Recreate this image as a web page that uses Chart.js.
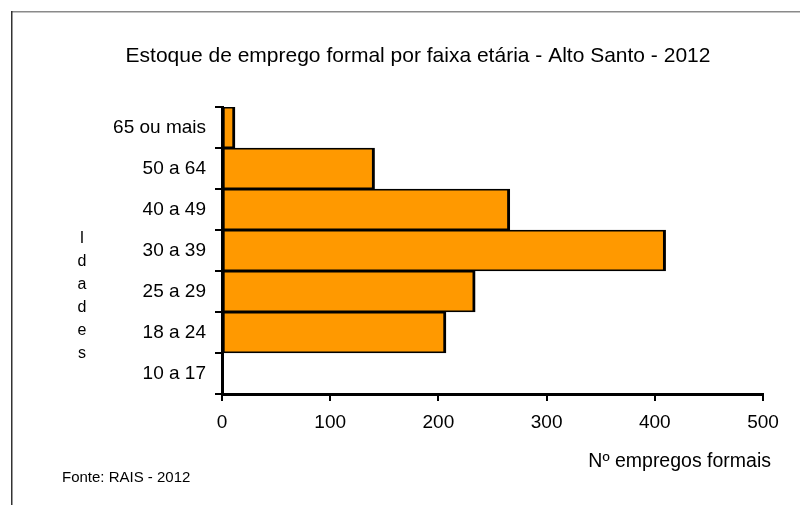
<!DOCTYPE html>
<html lang="pt">
<head>
<meta charset="utf-8">
<title>Estoque de emprego formal por faixa etária - Alto Santo - 2012</title>
<script src="https://cdn.jsdelivr.net/npm/chart.js@4/dist/chart.umd.min.js"></script>
<style>
  html, body { margin: 0; padding: 0; background: #fff; }
  #wrap { width: 800px; height: 505px; }
</style>
</head>
<body>
<div id="wrap"><canvas id="chart" width="800" height="505"></canvas></div>
<script>
// Dados (de baixo para cima)
const faixas = ["10 a 17", "18 a 24", "25 a 29", "30 a 39", "40 a 49", "50 a 64", "65 ou mais"];
const empregos = [0, 207, 234, 410, 266, 141, 12];
const xMin = 0, xMax = 500, xStep = 100;

const titulo = "Estoque de emprego formal por faixa etária - Alto Santo - 2012";
const tituloX = "Nº empregos formais";
const tituloY = "Idades";
const fonte = "Fonte: RAIS - 2012";

const FONT = "'Liberation Sans', Arial, sans-serif";

// Moldura, título e textos soltos
const extras = {
  id: "extras",
  beforeDraw: (chart) => {
    const c = chart.ctx;
    c.save();
    c.fillStyle = "#fff";
    c.fillRect(0, 0, chart.width, chart.height);
    c.fillStyle = "#8a8a8a";
    c.fillRect(11, 11, chart.width - 11, 1.5);
    c.fillStyle = "#333";
    c.fillRect(11, 11, 1.5, chart.height - 11);
    c.restore();
  },
  afterDraw: (chart) => {
    const c = chart.ctx;
    c.save();
    c.fillStyle = "#000";
    c.textBaseline = "alphabetic";

    c.font = `21px ${FONT}`;
    c.textAlign = "center";
    c.fillText(titulo, 418, 62);

    c.font = `19.5px ${FONT}`;
    c.textAlign = "right";
    c.fillText(tituloX, 771, 467);

    c.font = `15px ${FONT}`;
    c.textAlign = "left";
    c.fillText(fonte, 62, 482);

    // "Idades" na vertical, uma letra por linha
    c.font = `16px ${FONT}`;
    c.textAlign = "center";
    [...tituloY].forEach((ch, i) => c.fillText(ch, 82, 243 + i * 23));
    c.restore();
  }
};

new Chart(document.getElementById("chart"), {
  type: "bar",
  data: {
    labels: faixas,
    datasets: [{
      data: empregos,
      backgroundColor: "#FF9900",
      borderColor: "#000",
      borderWidth: { top: 1.75, bottom: 1.75, left: 2, right: 3 },
      borderSkipped: false,
      categoryPercentage: 1,
      barPercentage: 1
    }]
  },
  options: {
    indexAxis: "y",
    responsive: false,
    animation: false,
    layout: { padding: { top: 107, right: 37, bottom: 0, left: 0 } },
    plugins: {
      legend: { display: false },
      tooltip: { enabled: false }
    },
    scales: {
      x: {
        min: xMin,
        max: xMax,
        afterFit: (s) => { s.height = 111; },
        grid: { drawOnChartArea: false, drawTicks: true, tickLength: 7, color: "#000", lineWidth: 2 },
        border: { color: "#000", width: 3 },
        ticks: { stepSize: xStep, color: "#000", padding: 10, font: { family: FONT, size: 19 } }
      },
      y: {
        reverse: true,
        afterFit: (s) => { s.width = 222; },
        grid: { offset: true, drawOnChartArea: false, drawTicks: true, tickLength: 7, color: "#000", lineWidth: 2 },
        border: { color: "#000", width: 3 },
        ticks: { color: "#000", padding: 9, font: { family: FONT, size: 19 } }
      }
    }
  },
  plugins: [extras]
});
</script>
</body>
</html>
